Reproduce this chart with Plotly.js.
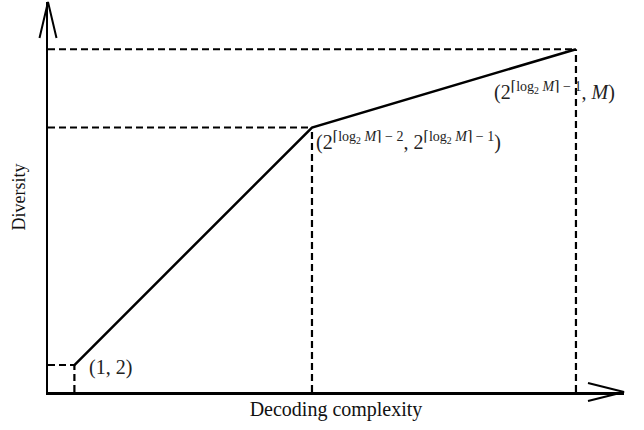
<!DOCTYPE html>
<html>
<head>
<meta charset="utf-8">
<script src="https://cdn.plot.ly/plotly-3.0.1.min.js"></script>
<style>html,body{margin:0;padding:0;background:#fff;}#chart{width:644px;height:430px;}</style>
</head>
<body>
<div id="chart"></div>
<script>
// Conceptual points (decoding complexity, diversity)
const complexity = [1, 10, 20];
const diversity = [2, 19.6, 25.4];
const pointLabels = [
  "(1, 2)",
  "(2<sup>⌈log<sub>2</sub> <i>M</i>⌉ − 2</sup>, 2<sup>⌈log<sub>2</sub> <i>M</i>⌉ − 1</sup>)",
  "(2<sup>⌈log<sub>2</sub> <i>M</i>⌉ − 1</sup>, <i>M</i>)"
];
const xTitle = "Decoding complexity";
const yTitle = "Diversity";
const xMax = 21.82, yMax = 28.9;

const FONT = "Liberation Serif, DejaVu Serif, serif";
const traces = [];
// dashed guide lines for each point
complexity.forEach((cx, i) => {
  traces.push({x: [0, cx], y: [diversity[i], diversity[i]], mode: 'lines',
    line: {color: 'black', width: 2.2, dash: '7px,4px'}, hoverinfo: 'skip', showlegend: false});
  traces.push({x: [cx, cx], y: [0, diversity[i]], mode: 'lines',
    line: {color: 'black', width: 2.2, dash: '7px,4px'}, hoverinfo: 'skip', showlegend: false});
});
traces.push({x: complexity, y: diversity, mode: 'lines',
  line: {color: 'black', width: 2.5}, showlegend: false});

const shifts = [[13, -2, 'left', 'middle'], [2, 1, 'left', 'top'], [-84, -28, 'left', 'top']];
const annotations = complexity.map((cx, i) => ({
  x: cx, y: diversity[i], xref: 'x', yref: 'y', text: pointLabels[i], showarrow: false,
  xanchor: shifts[i][2], yanchor: shifts[i][3], xshift: shifts[i][0], yshift: shifts[i][1],
  font: {family: FONT, size: 20, color: '#222'}
}));

const W = 576, H = 390;
const shapes = [
  {type: 'path', xref: 'paper', yref: 'paper',
   path: `M ${1 - 36 / W} ${9 / H} L 1 0 L ${1 - 36 / W} ${-9 / H}`,
   line: {color: 'black', width: 2}},
  {type: 'path', xref: 'paper', yref: 'paper',
   path: `M ${-8.5 / W} ${1 - 36 / H} L 0 1 L ${8.5 / W} ${1 - 36 / H}`,
   line: {color: 'black', width: 2}}
];

const layout = {
  width: 644, height: 430,
  margin: {l: 48, r: 20, t: 2, b: 38},
  paper_bgcolor: '#fff', plot_bgcolor: '#fff',
  xaxis: {range: [0, xMax], showline: true, linecolor: 'black', linewidth: 2.5,
    showgrid: false, zeroline: false, showticklabels: false, ticks: '',
    title: {text: xTitle, font: {family: FONT, size: 20, color: '#111'}, standoff: 9}},
  yaxis: {range: [0, yMax], showline: true, linecolor: 'black', linewidth: 2.5,
    showgrid: false, zeroline: false, showticklabels: false, ticks: '',
    title: {text: yTitle, font: {family: FONT, size: 18, color: '#111'}, standoff: 15}},
  shapes: shapes,
  annotations: annotations
};
Plotly.newPlot('chart', traces, layout, {displayModeBar: false, staticPlot: true});
</script>
</body>
</html>
